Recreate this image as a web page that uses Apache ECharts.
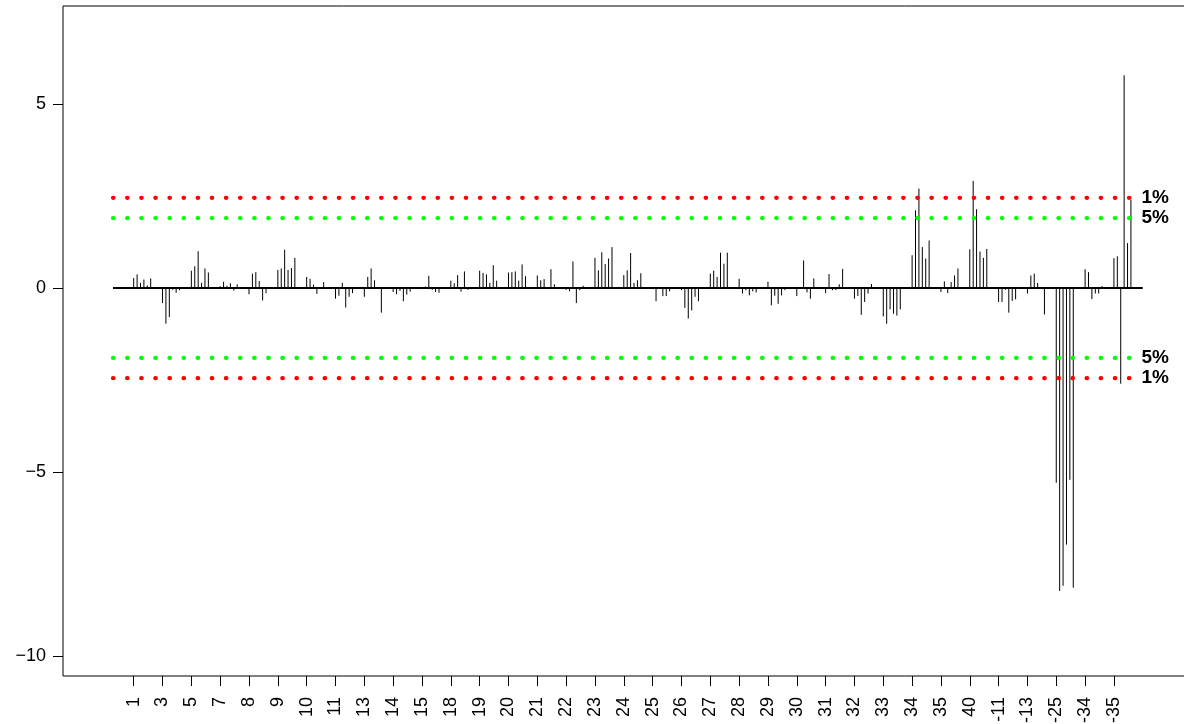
<!DOCTYPE html>
<html><head><meta charset="utf-8">
<script src="https://cdn.jsdelivr.net/npm/echarts@6/dist/echarts.min.js"></script>
<style>html,body{margin:0;padding:0;background:#fff}#c{width:1184px;height:724px}</style>
</head><body><div id="c"></div>
<script>
// ---- data ----
const groupLabels = ["1","3","5","7","8","9","10","11","13","14","15","18","19","20","21","22","23","24","25","26","27","28","29","30","31","32","33","34","35","40","-11","-13","-25","-34","-35"];
const barValues = [
  [0.27, 0.37, 0.14, 0.23, 0.07, 0.26],
  [-0.41, -0.97, -0.79, -0.05, -0.13, -0.06],
  [0.47, 0.59, 1.00, 0.14, 0.53, 0.42],
  [0.05, 0.17, 0.06, 0.13, -0.07, 0.10],
  [-0.17, 0.39, 0.43, 0.19, -0.34, -0.14],
  [0.49, 0.53, 1.04, 0.49, 0.54, 0.82],
  [0.30, 0.25, 0.09, -0.16, 0.02, 0.16],
  [-0.29, -0.21, 0.14, -0.53, -0.24, -0.14],
  [-0.24, 0.30, 0.53, 0.21, 0.02, -0.67],
  [-0.11, -0.17, -0.08, -0.36, -0.18, -0.10],
  [0.02, 0.04, 0.33, -0.05, -0.11, -0.13],
  [0.20, 0.13, 0.35, -0.10, 0.45, -0.05],
  [0.47, 0.41, 0.37, 0.14, 0.62, 0.20],
  [0.42, 0.43, 0.45, 0.20, 0.64, 0.32],
  [0.34, 0.21, 0.24, 0.02, 0.51, 0.10],
  [-0.05, -0.09, 0.72, -0.41, -0.06, 0.06],
  [0.82, 0.48, 0.97, 0.65, 0.80, 1.11],
  [0.35, 0.48, 0.95, 0.14, 0.21, 0.40],
  [-0.03, -0.36, 0.02, -0.22, -0.22, -0.09],
  [-0.06, -0.54, -0.83, -0.61, -0.24, -0.36],
  [0.39, 0.47, 0.30, 0.96, 0.66, 0.96],
  [0.25, -0.15, -0.06, -0.20, -0.09, -0.12],
  [0.17, -0.47, -0.21, -0.43, -0.20, -0.06],
  [-0.22, 0.02, 0.75, -0.12, -0.29, 0.26],
  [-0.14, 0.38, -0.06, -0.06, 0.10, 0.52],
  [-0.29, -0.22, -0.73, -0.38, -0.15, 0.11],
  [-0.77, -0.97, -0.58, -0.70, -0.75, -0.58],
  [0.89, 2.11, 2.70, 1.11, 0.80, 1.29],
  [-0.11, 0.18, -0.14, 0.16, 0.34, 0.53],
  [1.05, 2.91, 2.14, 0.99, 0.82, 1.06],
  [-0.38, -0.38, -0.05, -0.67, -0.35, -0.31],
  [-0.15, 0.34, 0.39, 0.14, 0.02, -0.72],
  [-5.29, -8.23, -8.09, -6.97, -5.21, -8.14],
  [0.51, 0.43, -0.30, -0.15, -0.15, 0.05],
  [0.81, 0.86, -2.60, 5.78, 1.22, 2.40]
];
const yTicks = [-10, -5, 0, 5];
const thresholdValues = [2.45, 1.9, -1.9, -2.45];
const thresholdNames = ["1%", "5%", "5%", "1%"];

// ---- layout / style ----
const FONT = "'Liberation Sans', Arial, Helvetica, sans-serif";
const thresholdColors = ["#ff0000", "#00ff00", "#00ff00", "#ff0000"];
const BAR_STEP = 0.118;           // spacing of bars inside a group (group units)
const X_MIN = -2.452, X_MAX = 36.5;
const Y_MIN = -10.54, Y_MAX = 7.66;
const LINE_START = -0.718, ZERO_END = 35.0, THRESH_END = 34.54;

const barData = [];
barValues.forEach((grp, g) => grp.forEach((v, j) => barData.push([g + j * BAR_STEP, v])));
const tickPositions = groupLabels.map((_, i) => i);

const series = [{
  type: 'custom',
  data: barData,
  renderItem: function (params, api) {
    const x = api.value(0), y = api.value(1);
    const p0 = api.coord([x, 0]), p1 = api.coord([x, y]);
    return { type: 'line', shape: { x1: p0[0], y1: p0[1], x2: p1[0], y2: p1[1] },
             style: { stroke: '#000', lineWidth: 1 } };
  },
  z: 2
}, {
  type: 'line',
  data: [[LINE_START, 0], [ZERO_END, 0]],
  symbol: 'none',
  lineStyle: { color: '#000', width: 2.2 },
  z: 3
}];
thresholdValues.forEach((v, i) => {
  series.push({
    type: 'line',
    data: [[LINE_START, v], [THRESH_END, v]],
    symbol: 'none',
    lineStyle: { color: thresholdColors[i], width: 4.2, type: [0.5, 13.61], cap: 'round' },
    endLabel: { show: true, formatter: thresholdNames[i], distance: 12, color: '#000',
                fontWeight: 'bold', fontSize: 19, fontFamily: FONT },
    z: 4
  });
});

const chart = echarts.init(document.getElementById('c'), null, { renderer: 'canvas' });
chart.setOption({
  animation: false,
  backgroundColor: '#fff',
  grid: { left: 63, right: -2, top: 6, bottom: 48, show: true, borderColor: '#000', borderWidth: 1,
          containLabel: false, outerBoundsMode: 'none' },
  xAxis: {
    type: 'value', min: X_MIN, max: X_MAX, position: 'bottom',
    axisLine: { show: false, onZero: false },
    splitLine: { show: false },
    axisTick: { show: true, customValues: tickPositions, length: 10, lineStyle: { color: '#000', width: 1 } },
    axisLabel: { show: true, customValues: tickPositions, rotate: 90, margin: 21, fontSize: 18,
                 color: '#000', fontFamily: FONT,
                 formatter: v => groupLabels[Math.round(v)] }
  },
  yAxis: {
    type: 'value', min: Y_MIN, max: Y_MAX, position: 'left',
    axisLine: { show: false, onZero: false },
    splitLine: { show: false },
    axisTick: { show: true, customValues: yTicks, length: 10, lineStyle: { color: '#000', width: 1 } },
    axisLabel: { show: true, customValues: yTicks, margin: 17, fontSize: 18, color: '#000', fontFamily: FONT,
                 formatter: v => String(v).replace('-', '\u2212') }
  },
  series: series
});
</script>
</body></html>
